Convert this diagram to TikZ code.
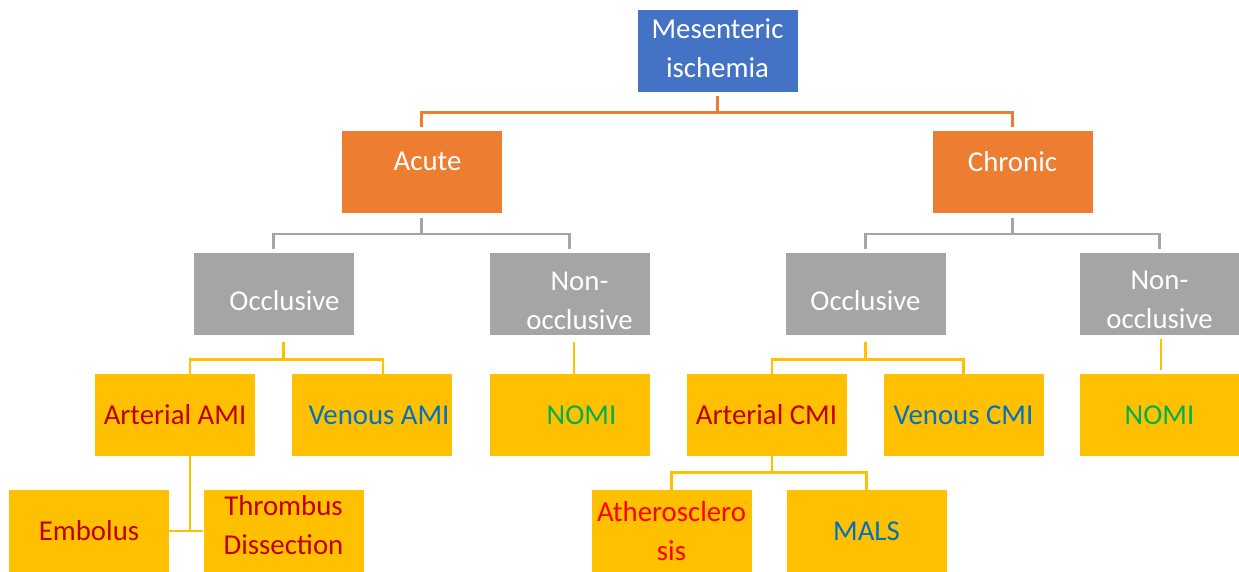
\documentclass[tikz,border=0pt]{standalone}
\usepackage{fontspec}
\setmainfont{Carlito}
\usetikzlibrary{calc, positioning}
\usepackage{xcolor}

\definecolor{smBlue}{HTML}{4472C4}
\definecolor{smOrange}{HTML}{ED7D31}
\definecolor{smGray}{HTML}{A5A5A5}
\definecolor{smYellow}{HTML}{FFC000}
\definecolor{txtRed}{HTML}{C00000}
\definecolor{txtBright}{HTML}{FF0000}
\definecolor{txtBlue}{HTML}{0070C0}
\definecolor{txtGreen}{HTML}{00B050}

\tikzset{
  box/.style={rectangle, inner sep=0pt, minimum width=80pt, minimum height=41pt,
    align=center, font=\fontsize{14.4}{19.5}\selectfont},
  topbox/.style={box, fill=smBlue, text=white},
  lvlone/.style={box, fill=smOrange, text=white, text depth=11pt},
  lvltwo/.style={box, fill=smGray, text=white},
  leaf/.style={box, fill=smYellow},
  oline/.style={draw=smOrange, line width=1.2pt},
  gline/.style={draw=smGray, line width=1.2pt},
  yline/.style={draw=smYellow, line width=1.4pt},
}

\begin{document}
\begin{tikzpicture}[x=0.5pt, y=-0.5pt]
  \useasboundingbox (0,0) rectangle (1239,572);

  % top and first level
  \node[topbox] (mes) at (717.5,51) {Mesenteric\\ischemia\rule[-3pt]{0pt}{0pt}};
  \node[lvlone] (acute) at (421.5,172.5) {\hspace{6pt}Acute};
  \node[lvlone] (chronic) at (1012.5,172.5) {Chronic};

  % second level
  \node[lvltwo, text height=17pt] (occA) at (273.5,294) {\hspace{11pt}Occlusive};
  \node[lvltwo] (nonA) at (569.5,294) {\rule{0pt}{16.3pt}\hspace{10pt}Non-\\\hspace{10pt}occlusive};
  \node[lvltwo, text height=17pt] (occC) at (865.5,294) {Occlusive};
  \node[lvltwo] (nonC) at (1159.5,294) {\rule{0pt}{15.3pt}Non-\\occlusive};

  % third level
  \node[leaf, text=txtRed] (artA) at (175,415) {Arterial AMI};
  \node[leaf, text=txtBlue] (venA) at (372,415) {\hspace{7pt}Venous AMI};
  \node[leaf, text=txtGreen] (nomiA) at (569.5,415) {\hspace{12pt}NOMI};
  \node[leaf, text=txtRed] (artC) at (766.5,415) {Arterial CMI};
  \node[leaf, text=txtBlue] (venC) at (963.5,415) {Venous CMI};
  \node[leaf, text=txtGreen] (nomiC) at (1159.5,415) {NOMI};

  % fourth level
  \node[leaf, text=txtRed] (emb) at (89,531) {Embolus};
  \node[leaf, text=txtRed] (thr) at (283.5,531) {Thrombus\\Dissection\rule[-6pt]{0pt}{0pt}};
  \node[leaf, text=txtBright] (ath) at (671.5,531) {Atherosclero\\sis};
  \node[leaf, text=txtBlue] (mals) at (866.5,531) {MALS};

  % orange connectors
  \draw[oline] ($(mes.south)+(0,4)$) -- ++(0,16) coordinate (oj);
  \draw[oline] (oj) -| ($(acute.north)+(0,-4)$);
  \draw[oline] (oj) -| ($(chronic.north)+(0,-4)$);

  % gray connectors
  \draw[gline] ($(acute.south)+(0,4)$) -- ++(0,16) coordinate (gA);
  \draw[gline] (gA) -| ($(occA.north)+(0,-4)$);
  \draw[gline] (gA) -| ($(nonA.north)+(0,-4)$);
  \draw[gline] ($(chronic.south)+(0,4)$) -- ++(0,16) coordinate (gC);
  \draw[gline] (gC) -| ($(occC.north)+(0,-4)$);
  \draw[gline] (gC) -| ($(nonC.north)+(0,-4)$);

  % yellow connectors
  \draw[yline] ($(occA.south)+(10,7)$) -- ++(0,17) coordinate (yA);
  \draw[yline] (yA) -| ($(artA.north)+(15,0)$);
  \draw[yline] (yA) -| ($(venA.north)+(11,0)$);
  \draw[yline] ($(nonA.south)+(4.5,7)$) -- ($(nomiA.north)+(4.5,0)$);
  \draw[yline] ($(occC.south)+(0,7)$) -- ++(0,17) coordinate (yC);
  \draw[yline] (yC) -| ($(artC.north)+(5.5,0)$);
  \draw[yline] (yC) -| (venC.north);
  \draw[yline] ($(nonC.south)+(1.5,4)$) -- ($(nomiC.north)+(1.5,-4)$);
  \draw[yline] ($(artA.south)+(15,0)$) |- (emb.east);
  \draw[yline] (emb.east) -- (thr.west);
  \draw[yline] ($(artC.south)+(5.5,0)$) -- ++(0,16) coordinate (yT);
  \draw[yline] (yT) -| (ath.north);
  \draw[yline] (yT) -| (mals.north);
\end{tikzpicture}
\end{document}
